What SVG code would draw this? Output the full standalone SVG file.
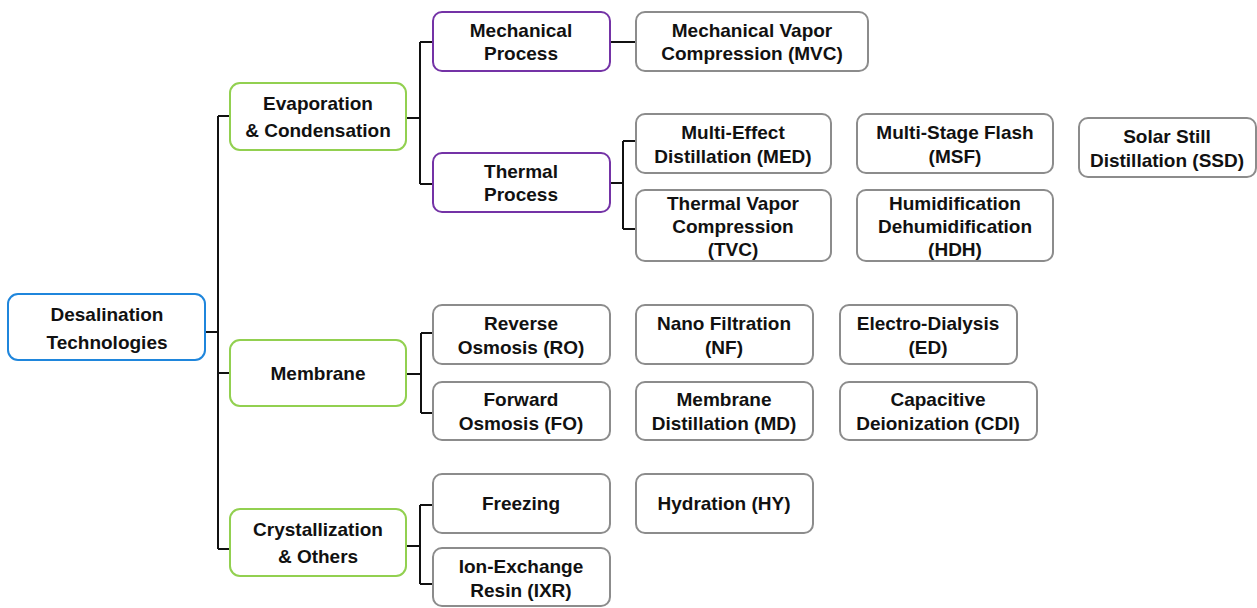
<svg xmlns="http://www.w3.org/2000/svg" width="1257" height="608" viewBox="0 0 1257 608">
<style>
.n rect{fill:#fff;stroke-width:2}
.root rect{stroke:#1f86dc}
.l1 rect{stroke:#92d050}
.l2 rect{stroke:#7433a6}
.l3 rect{stroke:#8c8c8c}
text{font-family:"Liberation Sans",Arial,sans-serif;font-weight:bold;font-size:19px;fill:#111;text-anchor:middle}
.c path{fill:none;stroke:#111;stroke-width:2}
</style>
<rect width="1257" height="608" fill="#fff"/>
<g class="c">
<path d="M205 332H218M218 116V549M218 116H230M218 373H230M218 549H230"/>
<path d="M406 118H420M420 42V184M420 42H433M420 184H433"/>
<path d="M406 374H421M421 333V413M421 333H433M421 413H433"/>
<path d="M406 546H420M420 505V584M420 505H433M420 584H433"/>
<path d="M610 42H636"/>
<path d="M610 183H623M623 141V229M623 141H636M623 229H636"/>
</g>
<g id="root" class="n root"><rect x="8" y="294" width="197" height="66" rx="10"/><text x="107" y="321">Desalination</text><text x="107" y="349">Technologies</text></g>
<g id="evap" class="n l1"><rect x="230" y="83" width="176" height="67" rx="10"/><text x="318" y="110">Evaporation</text><text x="318" y="137">&amp; Condensation</text></g>
<g id="membrane" class="n l1"><rect x="230" y="340" width="176" height="66" rx="10"/><text x="318" y="380">Membrane</text></g>
<g id="cryst" class="n l1"><rect x="230" y="509" width="176" height="67" rx="10"/><text x="318" y="536">Crystallization</text><text x="318" y="563">&amp; Others</text></g>
<g id="mech" class="n l2"><rect x="433" y="12" width="177" height="59" rx="9"/><text x="521" y="37">Mechanical</text><text x="521" y="60">Process</text></g>
<g id="thermal" class="n l2"><rect x="433" y="153" width="177" height="59" rx="9"/><text x="521" y="178">Thermal</text><text x="521" y="201">Process</text></g>
<g id="mvc" class="n l3"><rect x="636" y="12" width="232" height="59" rx="9"/><text x="752" y="37">Mechanical Vapor</text><text x="752" y="60">Compression (MVC)</text></g>
<g id="med" class="n l3"><rect x="636" y="114" width="195" height="59" rx="9"/><text x="733" y="139">Multi-Effect</text><text x="733" y="163">Distillation (MED)</text></g>
<g id="msf" class="n l3"><rect x="857" y="114" width="196" height="59" rx="9"/><text x="955" y="139">Multi-Stage Flash</text><text x="955" y="163">(MSF)</text></g>
<g id="ssd" class="n l3"><rect x="1079" y="118" width="177" height="59" rx="9"/><text x="1167" y="143">Solar Still</text><text x="1167" y="167">Distillation (SSD)</text></g>
<g id="tvc" class="n l3"><rect x="636" y="190" width="195" height="71" rx="9"/><text x="733" y="210">Thermal Vapor</text><text x="733" y="233">Compression</text><text x="733" y="256">(TVC)</text></g>
<g id="hdh" class="n l3"><rect x="857" y="190" width="196" height="71" rx="9"/><text x="955" y="210">Humidification</text><text x="955" y="233">Dehumidification</text><text x="955" y="256">(HDH)</text></g>
<g id="ro" class="n l3"><rect x="433" y="305" width="177" height="59" rx="9"/><text x="521" y="330">Reverse</text><text x="521" y="354">Osmosis (RO)</text></g>
<g id="fo" class="n l3"><rect x="433" y="382" width="177" height="58" rx="9"/><text x="521" y="406">Forward</text><text x="521" y="430">Osmosis (FO)</text></g>
<g id="nf" class="n l3"><rect x="636" y="305" width="177" height="59" rx="9"/><text x="724" y="330">Nano Filtration</text><text x="724" y="354">(NF)</text></g>
<g id="ed" class="n l3"><rect x="840" y="305" width="177" height="59" rx="9"/><text x="928" y="330">Electro-Dialysis</text><text x="928" y="354">(ED)</text></g>
<g id="md" class="n l3"><rect x="636" y="382" width="177" height="58" rx="9"/><text x="724" y="406">Membrane</text><text x="724" y="430">Distillation (MD)</text></g>
<g id="cdi" class="n l3"><rect x="840" y="382" width="197" height="58" rx="9"/><text x="938" y="406">Capacitive</text><text x="938" y="430">Deionization (CDI)</text></g>
<g id="freezing" class="n l3"><rect x="433" y="474" width="177" height="59" rx="9"/><text x="521" y="510">Freezing</text></g>
<g id="hy" class="n l3"><rect x="636" y="474" width="177" height="59" rx="9"/><text x="724" y="510">Hydration (HY)</text></g>
<g id="ixr" class="n l3"><rect x="433" y="548" width="177" height="58" rx="9"/><text x="521" y="573">Ion-Exchange</text><text x="521" y="597">Resin (IXR)</text></g>
</svg>
